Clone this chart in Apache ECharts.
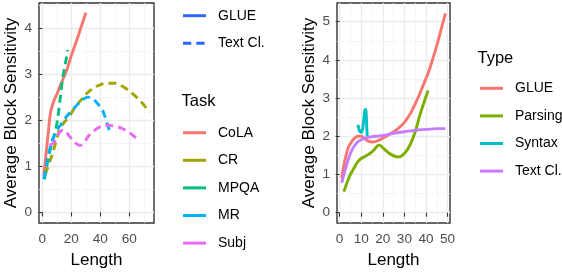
<!DOCTYPE html>
<html><head><meta charset="utf-8">
<script src="https://cdn.jsdelivr.net/npm/echarts@6/dist/echarts.min.js"></script>
<style>html,body{margin:0;padding:0;background:#fff}#c{width:562px;height:274px}</style>
</head><body><div id="c"></div>
<script>
const FONT = '"Liberation Sans", Arial, Helvetica, sans-serif';

// ---------- Left panel: sensitivity by task ----------
const taskNames  = ['CoLA', 'CR', 'MPQA', 'MR', 'Subj'];
const taskColors = ['#F8766D', '#A3A500', '#00BF7D', '#00B0F6', '#E76BF3'];
const taskKind   = ['GLUE', 'Text Cl.', 'Text Cl.', 'Text Cl.', 'Text Cl.'];
const colaData = [[1,0.8],[2,1.1],[3,1.4],[4,1.7],[5,2.02],[6,2.22],[8,2.42],[10,2.56],[13,2.8],[17,3.1],[20,3.4],[25,3.85],[30,4.33]];
const crData   = [[2,0.82],[4,1.0],[6,1.18],[8,1.38],[10,1.6],[12,1.8],[15,1.95],[18,2.06],[22,2.25],[27,2.45],[32,2.62],[38,2.74],[44,2.8],[50,2.8],[56,2.72],[62,2.58],[68,2.4],[74,2.17]];
const mpqaData = [[1.5,0.72],[3,1.0],[5,1.3],[7,1.55],[9,1.75],[10,1.92],[11.7,2.3],[13.4,2.76],[14.5,3.0],[16.2,3.28],[17.5,3.52]];
const mrData   = [[1,0.72],[2.5,0.95],[4,1.2],[5.5,1.42],[7.5,1.62],[10,1.78],[12,1.87],[16,2.05],[20,2.2],[25,2.36],[29,2.47],[31.5,2.5],[34,2.47],[37,2.4],[40,2.28],[42,2.18],[44,2.0],[45.5,1.85],[47,1.68]];
const subjData = [[5,1.45],[8,1.52],[10,1.64],[12,1.74],[14.5,1.79],[17,1.72],[20,1.6],[23,1.5],[26,1.45],[29,1.53],[32,1.66],[36,1.78],[40,1.86],[45,1.89],[50,1.87],[55,1.82],[60,1.73],[64,1.63],[67,1.55]];
const taskData = [colaData, crData, mpqaData, mrData, subjData];
const kindNames = ['GLUE', 'Text Cl.'];
const kindColor = '#3366FF';
const leftXTicks = [0, 20, 40, 60];
const leftXMinor = [10, 30, 50, 70];
const leftYTicks = [0, 1, 2, 3, 4];
const leftYMinor = [0.5, 1.5, 2.5, 3.5, 4.5];

// ---------- Right panel: sensitivity by type ----------
const typeNames  = ['GLUE', 'Parsing', 'Syntax', 'Text Cl.'];
const typeColors = ['#F8766D', '#7CAE00', '#00BFC4', '#C77CFF'];
const glueData    = [[1,0.9],[2,1.25],[3,1.5],[4,1.7],[5.5,1.85],[7,1.95],[8.5,2.0],[10,2.0],[11.5,1.94],[13,1.88],[15,1.85],[17,1.87],[19,1.92],[21,1.98],[23,2.05],[25,2.12],[27,2.2],[29,2.3],[31,2.44],[33,2.62],[35,2.85],[37,3.1],[39,3.38],[41,3.66],[43,4.0],[45,4.38],[47,4.8],[49,5.22]];
const parsingData = [[2,0.55],[3,0.72],[4,0.87],[5,1.0],[6,1.1],[7,1.2],[8,1.3],[9,1.37],[10,1.42],[12,1.48],[14,1.55],[16,1.65],[17.5,1.75],[18.5,1.77],[20,1.7],[22,1.6],[24,1.52],[26,1.47],[27.5,1.46],[29,1.5],[31,1.62],[33,1.82],[35,2.12],[37,2.52],[39,2.88],[41,3.2]];
const syntaxData  = [[8.5,2.3],[9.2,2.15],[10,2.1],[10.7,2.2],[11.2,2.45],[11.7,2.68],[12.1,2.7],[12.4,2.5],[12.6,2.2],[12.8,2.0]];
const textclData  = [[1,0.78],[2,1.0],[3,1.2],[4,1.4],[5,1.55],[6,1.67],[7,1.76],[8,1.83],[9,1.88],[10,1.91],[12,1.95],[14,1.98],[17,2.0],[20,2.02],[25,2.08],[30,2.12],[35,2.16],[40,2.18],[45,2.2],[49,2.2]];
const typeData = [glueData, parsingData, syntaxData, textclData];
const rightXTicks = [0, 10, 20, 30, 40, 50];
const rightXMinor = [5, 15, 25, 35, 45];
const rightYTicks = [0, 1, 2, 3, 4, 5];
const rightYMinor = [0.5, 1.5, 2.5, 3.5, 4.5, 5.5];

const yTitle = 'Average Block Sensitivity';
const xTitle = 'Length';

const chart = echarts.init(document.getElementById('c'), null, {renderer: 'canvas'});

function majorAxis(gridIndex, min, max, ticks, name, isY) {
  return {
    type: 'value', gridIndex, min, max,
    axisLine: {show: false},
    axisTick: {show: true, length: 4, customValues: ticks, lineStyle: {color: '#333333', width: 1.1}},
    axisLabel: {customValues: ticks, color: '#4D4D4D', fontSize: 13.6, fontFamily: FONT, margin: isY ? 7 : 9},
    splitLine: {show: true, lineStyle: {color: '#EBEBEB', width: 1.3}},
    name, nameLocation: 'middle', nameGap: isY ? 19 : 29,
    nameTextStyle: {fontSize: 17, color: '#000000', fontFamily: FONT}
  };
}
function minorAxis(gridIndex, min, max, ticks) {
  return {
    type: 'value', gridIndex, min, max,
    axisLine: {show: false},
    axisTick: {show: false, customValues: ticks},
    axisLabel: {show: false},
    splitLine: {show: true, lineStyle: {color: '#F2F2F2', width: 0.8}}
  };
}

const series = [];
taskNames.forEach((n, i) => {
  series.push({
    type: 'line', name: n, xAxisIndex: 0, yAxisIndex: 0,
    data: taskData[i], symbol: 'none', showSymbol: false,
    smooth: taskKind[i] === 'GLUE' ? 0.2 : 0.35,
    color: taskColors[i],
    lineStyle: {width: 2.9, color: taskColors[i], type: taskKind[i] === 'GLUE' ? 'solid' : [8, 5]},
    z: 3
  });
});
typeNames.forEach((n, i) => {
  series.push({
    type: 'line', name: n, xAxisIndex: 2, yAxisIndex: 2,
    data: typeData[i], symbol: 'none', showSymbol: false, smooth: 0.4,
    color: typeColors[i],
    lineStyle: {width: 2.9, color: typeColors[i]},
    z: 3
  });
});

// linetype legend (GLUE solid / Text Cl. dashed) for the left panel
const graphics = [];
kindNames.forEach((k, i) => {
  const y = 15.7 + i * 27.6;
  graphics.push({type: 'line', shape: {x1: 183, y1: y, x2: 206, y2: y},
    style: {stroke: kindColor, lineWidth: 3, lineDash: i === 0 ? null : [8.3, 5]}});
  graphics.push({type: 'text', x: 218, y: y,
    style: {text: k, font: '14px ' + FONT, fill: '#000', textVerticalAlign: 'middle'}});
});
graphics.push({type: 'text', x: 181.5, y: 101.5,
  style: {text: 'Task', font: '16.5px ' + FONT, fill: '#000', textVerticalAlign: 'middle'}});
graphics.push({type: 'text', x: 477.5, y: 58.3,
  style: {text: 'Type', font: '16.5px ' + FONT, fill: '#000', textVerticalAlign: 'middle'}});

function legendCfg(names, left, top) {
  return {
    data: names, orient: 'vertical', left, top, padding: 0,
    icon: 'rect', itemWidth: 23, itemHeight: 3, itemGap: 13.6,
    selectedMode: false,
    textStyle: {fontSize: 14, color: '#000', fontFamily: FONT, padding: [0, 0, 0, 7]}
  };
}

chart.setOption({
  animation: false,
  backgroundColor: '#ffffff',
  textStyle: {fontFamily: FONT},
  grid: [
    {left: 39, top: 3, width: 115, height: 229, show: true, backgroundColor: '#fff', borderColor: '#333333', borderWidth: 1.4},
    {left: 337, top: 3, width: 113, height: 229, show: true, backgroundColor: '#fff', borderColor: '#333333', borderWidth: 1.4}
  ],
  xAxis: [
    majorAxis(0, -2.3, 77, leftXTicks, xTitle, false),
    minorAxis(0, -2.3, 77, leftXMinor),
    majorAxis(1, -1.2, 51.1, rightXTicks, xTitle, false),
    minorAxis(1, -1.2, 51.1, rightXMinor)
  ],
  yAxis: [
    majorAxis(0, -0.23, 4.54, leftYTicks, yTitle, true),
    minorAxis(0, -0.23, 4.54, leftYMinor),
    majorAxis(1, -0.27, 5.49, rightYTicks, yTitle, true),
    minorAxis(1, -0.27, 5.49, rightYMinor)
  ],
  legend: [legendCfg(taskNames, 183, 125.7), legendCfg(typeNames, 480, 81.3)],
  graphic: graphics,
  series
});
</script></body></html>
